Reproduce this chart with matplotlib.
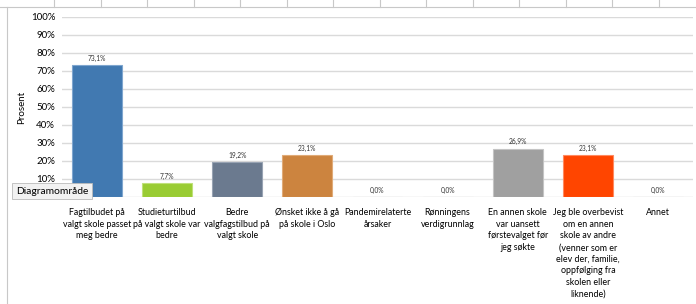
import numpy as np
import matplotlib
matplotlib.use("Agg")
import matplotlib.pyplot as plt
from matplotlib.lines import Line2D

plt.rcParams['font.family'] = ['Lato', 'DejaVu Sans']

kategorier = [
    "Fagtilbudet på\nvalgt skole passet\nmeg bedre",
    "Studieturtilbud\npå valgt skole var\nbedre",
    "Bedre\nvalgfagstilbud på\nvalgt skole",
    "Ønsket ikke å gå\npå skole i Oslo",
    "Pandemirelaterte\nårsaker",
    "Rønningens\nverdigrunnlag",
    "En annen skole\nvar uansett\nførstevalget før\njeg søkte",
    "Jeg ble overbevist\nom en annen\nskole av andre\n(venner som er\nelev der, familie,\noppfølging fra\nskolen eller\nliknende)",
    "Annet",
]
prosent = [73.1, 7.7, 19.2, 23.1, 0.0, 0.0, 26.9, 23.1, 0.0]
# 0%-etiketten er skjult bak verktøytipset i originalen
y_etiketter = ["", "10%", "20%", "30%", "40%", "50%", "60%", "70%", "80%", "90%", "100%"]
farger = ["#4179B1", "#99CC33", "#6B7A8F", "#CC843F", "#A5A5A5",
          "#A5A5A5", "#A0A0A0", "#FF4500", "#A5A5A5"]
kanter = ["#7FA6CF", "#BFE07A", "#98A3B3", "#E0AB78", "#C8C8C8",
          "#C8C8C8", "#C4C4C4", "#FF8A60", "#C8C8C8"]

fig = plt.figure(figsize=(6.96, 3.04), dpi=100)
fig.patch.set_facecolor("white")
ax = fig.add_axes([62/696, 1-197/304, 631/696, 180/304])

x = np.arange(len(kategorier))
ax.bar(x, prosent, width=0.71, color=farger, edgecolor=kanter, linewidth=0.8, zorder=3)
for xi, v in zip(x, prosent):
    ax.text(xi, v + 1.8, f"{v:.1f}%".replace(".", ","), ha="center", va="bottom",
            fontsize=4.8, color="#333333", zorder=4)

ax.set_xlim(-0.5, len(kategorier) - 0.5)
ax.set_ylim(0, 100)
ax.set_yticks(np.arange(0, 101, 10))
ax.set_yticklabels(y_etiketter, fontsize=7)
ax.set_xticks(x)
ax.set_xticklabels(kategorier, fontsize=6.4, linespacing=1.38)
ax.tick_params(axis="y", length=0, pad=5)
ax.tick_params(axis="x", length=0, pad=8)
ax.grid(axis="y", color="#DADADA", linewidth=1.0, zorder=0)
for s in ax.spines.values():
    s.set_visible(False)
ax.set_ylabel("Prosent", fontsize=7, labelpad=3)

# skjermbilde-rammer fra regnearket
fig.add_artist(Line2D([0, 1], [1-7/304, 1-7/304], color="#C8C8C8", lw=0.8))
fig.add_artist(Line2D([7/696, 7/696], [0, 1-7/304], color="#C8C8C8", lw=0.8))
for xp in np.arange(54, 696, 46.5):
    fig.add_artist(Line2D([xp/696, xp/696], [1-7/304, 1], color="#C8C8C8", lw=0.8))

fig.text(16/696, 1-191/304, "Diagramområde", fontsize=7.4, va="center", ha="left",
         bbox=dict(boxstyle="square,pad=0.35", fc="#F2F2F2", ec="#BBBBBB", lw=0.6),
         zorder=10)

fig.savefig("out.png", dpi=100)
